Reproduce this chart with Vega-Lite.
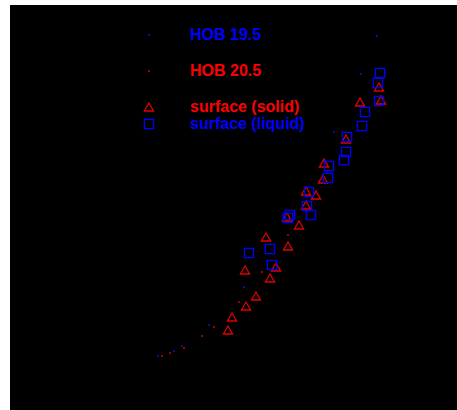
{
  "$schema": "https://vega.github.io/schema/vega-lite/v6.json",
  "autosize": {"type": "fit", "contains": "padding"},
  "width": 457,
  "height": 410,
  "padding": {"left": 10, "top": 5, "right": 0, "bottom": 0},
  "background": "white",
  "view": {"fill": "black", "stroke": null},
  "config": {
    "legend": {
      "title": null, "orient": "none", "padding": 0,
      "labelFont": "Liberation Sans", "labelFontSize": 16, "labelFontWeight": "bold",
      "labelLimit": 300, "labelBaseline": "middle"
    }
  },
  "data": {
    "values": [
      {"series": "HOB 19.5", "x": 367, "y": 374},
      {"series": "HOB 19.5", "x": 351, "y": 336},
      {"series": "HOB 19.5", "x": 324, "y": 278},
      {"series": "HOB 19.5", "x": 234, "y": 123},
      {"series": "HOB 19.5", "x": 199, "y": 85},
      {"series": "HOB 19.5", "x": 172, "y": 64},
      {"series": "HOB 19.5", "x": 164, "y": 59},
      {"series": "HOB 19.5", "x": 148, "y": 54},
      {"series": "HOB 20.5", "x": 375, "y": 306},
      {"series": "HOB 20.5", "x": 278, "y": 175},
      {"series": "HOB 20.5", "x": 252, "y": 138},
      {"series": "HOB 20.5", "x": 229, "y": 108},
      {"series": "HOB 20.5", "x": 204, "y": 83},
      {"series": "HOB 20.5", "x": 192, "y": 74},
      {"series": "HOB 20.5", "x": 174, "y": 62},
      {"series": "HOB 20.5", "x": 160, "y": 57},
      {"series": "HOB 20.5", "x": 152, "y": 54},
      {"series": "surface (solid)", "x": 350, "y": 308},
      {"series": "surface (solid)", "x": 314, "y": 247},
      {"series": "surface (solid)", "x": 313, "y": 231},
      {"series": "surface (solid)", "x": 296, "y": 219},
      {"series": "surface (solid)", "x": 306, "y": 215},
      {"series": "surface (solid)", "x": 296, "y": 205},
      {"series": "surface (solid)", "x": 277, "y": 193},
      {"series": "surface (solid)", "x": 289, "y": 185},
      {"series": "surface (solid)", "x": 256, "y": 173},
      {"series": "surface (solid)", "x": 278, "y": 164},
      {"series": "surface (solid)", "x": 235, "y": 140},
      {"series": "surface (solid)", "x": 266, "y": 143},
      {"series": "surface (solid)", "x": 260, "y": 132},
      {"series": "surface (solid)", "x": 246, "y": 114},
      {"series": "surface (solid)", "x": 236, "y": 104},
      {"series": "surface (solid)", "x": 222, "y": 93},
      {"series": "surface (solid)", "x": 218, "y": 80},
      {"series": "surface (solid)", "x": 369, "y": 323},
      {"series": "surface (solid)", "x": 371, "y": 310},
      {"series": "surface (solid)", "x": 336, "y": 271},
      {"series": "surface (liquid)", "x": 370, "y": 337},
      {"series": "surface (liquid)", "x": 368, "y": 327},
      {"series": "surface (liquid)", "x": 369, "y": 309},
      {"series": "surface (liquid)", "x": 355, "y": 298},
      {"series": "surface (liquid)", "x": 352, "y": 284},
      {"series": "surface (liquid)", "x": 337, "y": 273},
      {"series": "surface (liquid)", "x": 336, "y": 258},
      {"series": "surface (liquid)", "x": 334, "y": 250},
      {"series": "surface (liquid)", "x": 319, "y": 244},
      {"series": "surface (liquid)", "x": 318, "y": 232},
      {"series": "surface (liquid)", "x": 299, "y": 218},
      {"series": "surface (liquid)", "x": 297, "y": 204},
      {"series": "surface (liquid)", "x": 301, "y": 195},
      {"series": "surface (liquid)", "x": 280, "y": 195},
      {"series": "surface (liquid)", "x": 278, "y": 192},
      {"series": "surface (liquid)", "x": 260, "y": 161},
      {"series": "surface (liquid)", "x": 239, "y": 157},
      {"series": "surface (liquid)", "x": 262, "y": 145}
    ]
  },
  "encoding": {
    "x": {"field": "x", "type": "quantitative", "scale": {"domain": [0, 447], "nice": false, "zero": false}, "axis": null},
    "y": {"field": "y", "type": "quantitative", "scale": {"domain": [0, 405], "nice": false, "zero": false}, "axis": null}
  },
  "layer": [
    {
      "transform": [{"filter": "datum.series == 'HOB 19.5'"}],
      "mark": {"type": "point", "shape": "circle", "filled": true, "opacity": 1, "size": 4, "strokeWidth": 0},
      "encoding": {
        "color": {
          "field": "series", "type": "nominal",
          "scale": {"domain": ["HOB 19.5"], "range": ["#1010d0"]},
          "legend": {"legendX": 131, "legendY": 22, "symbolSize": 4, "symbolType": "circle", "labelOffset": 33, "labelColor": "#0000ff"}
        }
      }
    },
    {
      "transform": [{"filter": "datum.series == 'HOB 20.5'"}],
      "mark": {"type": "point", "shape": "circle", "filled": true, "opacity": 1, "size": 4, "strokeWidth": 0},
      "encoding": {
        "color": {
          "field": "series", "type": "nominal",
          "scale": {"domain": ["HOB 20.5"], "range": ["#d00000"]},
          "legend": {"legendX": 131, "legendY": 58, "symbolSize": 4, "symbolType": "circle", "labelOffset": 33, "labelColor": "#ff0000"}
        }
      }
    },
    {
      "transform": [{"filter": "datum.series == 'surface (solid)'"}],
      "mark": {"type": "point", "shape": "triangle-up", "filled": false, "opacity": 1, "size": 85, "strokeWidth": 1.3},
      "encoding": {
        "color": {
          "field": "series", "type": "nominal",
          "scale": {"domain": ["surface (solid)"], "range": ["#e00000"]},
          "legend": {"legendX": 131, "legendY": 94, "symbolSize": 85, "symbolType": "triangle-up", "symbolStrokeWidth": 1.3, "labelOffset": 33, "labelColor": "#ff0000"}
        }
      }
    },
    {
      "transform": [{"filter": "datum.series == 'surface (liquid)'"}],
      "mark": {"type": "point", "shape": "square", "filled": false, "opacity": 1, "size": 85, "strokeWidth": 1.3},
      "encoding": {
        "color": {
          "field": "series", "type": "nominal",
          "scale": {"domain": ["surface (liquid)"], "range": ["#0000ff"]},
          "legend": {"legendX": 131, "legendY": 111, "symbolSize": 85, "symbolType": "square", "symbolStrokeWidth": 1.3, "labelOffset": 33, "labelColor": "#0000ff"}
        }
      }
    }
  ],
  "resolve": {"scale": {"color": "independent"}, "legend": {"color": "independent"}}
}
